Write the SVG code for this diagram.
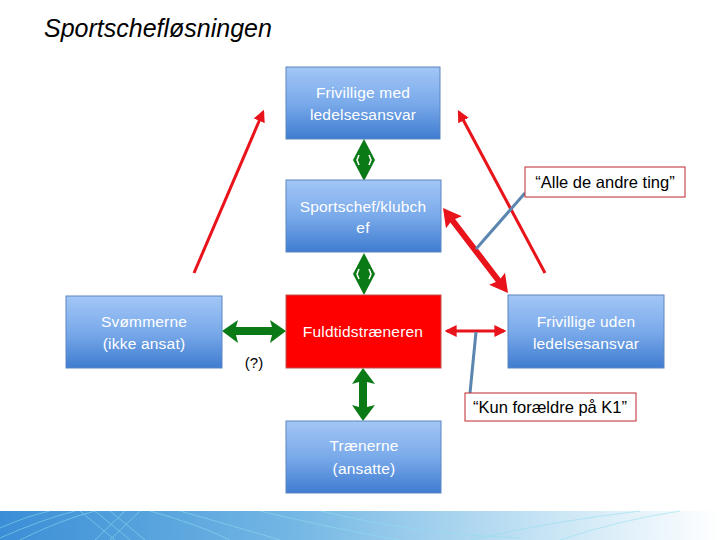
<svg xmlns="http://www.w3.org/2000/svg" width="720" height="540" viewBox="0 0 720 540">
<defs>
<linearGradient id="boxg" x1="0" y1="0" x2="0" y2="1">
<stop offset="0" stop-color="#a3c6f6"/>
<stop offset="0.5" stop-color="#7aaaea"/>
<stop offset="1" stop-color="#3f7cd0"/>
</linearGradient>
<linearGradient id="band" x1="0" y1="0" x2="1" y2="0">
<stop offset="0" stop-color="#3b8ed6"/>
<stop offset="0.4" stop-color="#72b6e4"/>
<stop offset="0.75" stop-color="#c5e3f4"/>
<stop offset="1" stop-color="#ffffff"/>
</linearGradient>
<marker id="ah" viewBox="0 0 10 10" refX="8" refY="5" markerWidth="4" markerHeight="4" orient="auto-start-reverse">
<path d="M0,0 L10,5 L0,10 z" fill="#e8131b"/>
</marker>
<style>
.box{fill:url(#boxg);stroke:#5a86c0;stroke-width:1}
.lbl{font-family:"Liberation Sans",Arial,sans-serif;font-size:15.5px;letter-spacing:0.2px;fill:#ffffff;text-anchor:middle}
.call{fill:#ffffff;stroke:#c0272d;stroke-width:1}
.ctxt{font-family:"Liberation Sans",Arial,sans-serif;font-size:16.5px;fill:#000;text-anchor:middle}
.red{stroke:#e8131b;stroke-width:3;fill:none}
.grn{fill:#0a7a16}
.lead{stroke:#5b86b0;stroke-width:3;fill:none}
</style>
</defs>
<rect width="720" height="540" fill="#ffffff"/>
<text x="44" y="37" font-family="Liberation Sans,Arial,sans-serif" font-size="25" font-style="italic" fill="#000">Sportschefløsningen</text>

<g id="connectors">
<line class="red" x1="194" y1="273" x2="263" y2="112" marker-end="url(#ah)"/>
<line class="red" x1="545" y1="273" x2="459" y2="112" marker-end="url(#ah)"/>
<line class="red" x1="447" y1="331" x2="504" y2="331" marker-start="url(#ah)" marker-end="url(#ah)"/>
<g transform="translate(443,208) rotate(52.6)">
<path d="M0,0 L18,-10 L16,-3 L91,-3 L89,-10 L107,0 L89,10 L91,3 L16,3 L18,10 z" fill="#e8131b"/>
</g>
<line class="lead" x1="525" y1="193" x2="476" y2="249"/>
<line class="lead" x1="470" y1="393" x2="476" y2="332"/>
<g>
<path class="grn" d="M364,139 L375,160 L364,181 L353,160 z"/>
<path d="M359,155 L357,160 L359,165 M369,155 L371,160 L369,165" stroke="#fff" stroke-width="1.5" fill="none"/>
</g>
<g>
<path class="grn" d="M364,253 L375,274 L364,295 L353,274 z"/>
<path d="M359,269 L357,274 L359,279 M369,269 L371,274 L369,279" stroke="#fff" stroke-width="1.5" fill="none"/>
</g>
<path class="grn" d="M222,331 L238,320 L236,327 L272,327 L270,320 L286,331 L270,343 L272,335 L236,335 L238,343 z"/>
<path class="grn" d="M363,368 L375,384 L367,382 L367,407 L375,405 L363,421 L352,405 L359,407 L359,382 L352,384 z"/>
</g>

<g id="n1"><rect class="box" x="286" y="67" width="154" height="72"/>
<text class="lbl" x="363" y="98">Frivillige med</text><text class="lbl" x="363" y="120">ledelsesansvar</text></g>
<g id="n2"><rect class="box" x="286" y="180" width="155" height="72"/>
<text class="lbl" x="363" y="212">Sportschef/klubch</text><text class="lbl" x="363" y="233">ef</text></g>
<g id="n3"><rect class="box" x="66" y="296" width="156" height="72"/>
<text class="lbl" x="144" y="327">Svømmerne</text><text class="lbl" x="144" y="349">(ikke ansat)</text></g>
<g id="n4"><rect x="286" y="295" width="155" height="73" fill="#ff0000" stroke="#c0504d" stroke-width="1"/>
<text class="lbl" x="363" y="337">Fuldtidstræneren</text></g>
<g id="n5"><rect class="box" x="508" y="295" width="156" height="73"/>
<text class="lbl" x="586" y="327">Frivillige uden</text><text class="lbl" x="586" y="349">ledelsesansvar</text></g>
<g id="n6"><rect class="box" x="286" y="421" width="155" height="72"/>
<text class="lbl" x="364" y="451">Trænerne</text><text class="lbl" x="364" y="474">(ansatte)</text></g>

<g id="c1"><rect class="call" x="525" y="167" width="160" height="30"/>
<text class="ctxt" x="605" y="188">“Alle de andre ting”</text></g>
<g id="c2"><rect class="call" x="465" y="393" width="171" height="28"/>
<text class="ctxt" x="550" y="413">“Kun forældre på K1”</text></g>
<text x="254" y="368" font-family="Liberation Sans,Arial,sans-serif" font-size="15" fill="#000" text-anchor="middle">(?)</text>

<g id="banner">
<rect x="0" y="511" width="720" height="29" fill="url(#band)"/>
<g stroke="#8fe0f0" stroke-width="1" fill="none" opacity="0.55">
<path d="M0,528 Q30,515 50,511"/><path d="M0,538 Q40,520 75,511"/>
<path d="M20,540 Q60,520 95,511"/><path d="M80,511 L115,540"/><path d="M95,511 L130,540"/>
<path d="M110,511 L145,540"/><path d="M125,511 L95,540"/><path d="M140,511 L110,540"/>
<path d="M150,511 Q200,525 230,540"/><path d="M180,511 Q240,528 280,540"/>
<path d="M260,511 Q340,530 400,540"/><path d="M320,511 Q420,535 520,538"/>
<path d="M470,540 Q560,520 640,511"/><path d="M560,540 Q620,520 680,511"/>
</g>
</g>
</svg>
